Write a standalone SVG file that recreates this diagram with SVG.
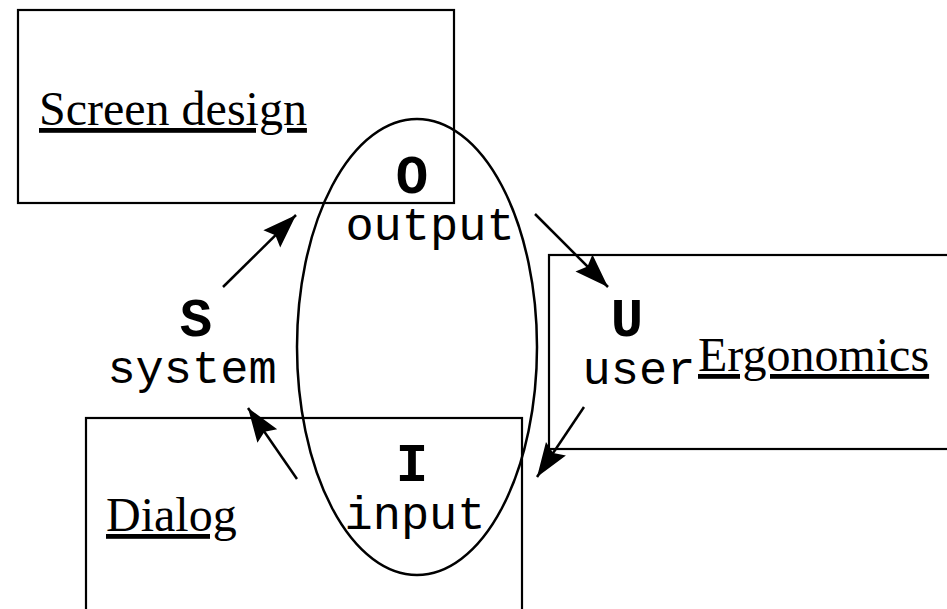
<svg xmlns="http://www.w3.org/2000/svg" width="947" height="609" viewBox="0 0 947 609">
  <style>
    .box { fill: none; stroke: #000; stroke-width: 2.2; }
    .loop { fill: none; stroke: #000; stroke-width: 2.5; }
    .title { font-family: "Liberation Serif", "Times New Roman", serif; font-size: 48px; fill: #000; text-decoration: underline; text-decoration-skip-ink: none; }
    .key { font-family: "Liberation Mono", "Courier New", monospace; font-size: 54px; font-weight: bold; fill: #000; text-anchor: middle; }
    .word { font-family: "Liberation Mono", "Courier New", monospace; font-size: 47px; fill: #000; text-anchor: middle; }
    .arrow { fill: none; stroke: #000; stroke-width: 2.5; marker-end: url(#head); }
  </style>
  <defs>
    <marker id="head" markerUnits="userSpaceOnUse" markerWidth="40" markerHeight="30" viewBox="-36 -14 40 28" refX="0" refY="0" orient="auto">
      <path d="M0,0 L-34,-12 L-29,0 L-34,12 Z" fill="#000"/>
    </marker>
  </defs>
  <rect width="947" height="609" fill="#fff"/>

  <g id="screen-design">
    <rect class="box" x="18" y="10" width="436" height="193"/>
    <text class="title" x="39" y="125">Screen design</text>
  </g>

  <g id="ergonomics">
    <rect class="box" x="549" y="255" width="420" height="194"/>
    <text class="title" x="698" y="371">Ergonomics</text>
  </g>

  <g id="dialog">
    <rect class="box" x="86" y="418" width="436" height="220"/>
    <text class="title" x="106" y="531">Dialog</text>
  </g>

  <g id="loop">
    <ellipse class="loop" cx="417" cy="347" rx="120" ry="228"/>
  </g>

  <g id="output">
    <text class="key" x="412" y="193">O</text>
    <text class="word" x="430" y="240">output</text>
  </g>

  <g id="user">
    <text class="key" x="627" y="336">U</text>
    <text class="word" x="639" y="384">user</text>
  </g>

  <g id="input">
    <text class="key" x="412" y="481">I</text>
    <text class="word" x="415" y="529">input</text>
  </g>

  <g id="system">
    <text class="key" x="196" y="336">S</text>
    <text class="word" x="192" y="383">system</text>
  </g>

  <g id="connectors">
    <line class="arrow" x1="223" y1="287" x2="296" y2="215"/>
    <line class="arrow" x1="535" y1="214" x2="608" y2="287"/>
    <line class="arrow" x1="584" y1="407" x2="537" y2="477"/>
    <line class="arrow" x1="297" y1="479" x2="248" y2="408"/>
  </g>
</svg>
